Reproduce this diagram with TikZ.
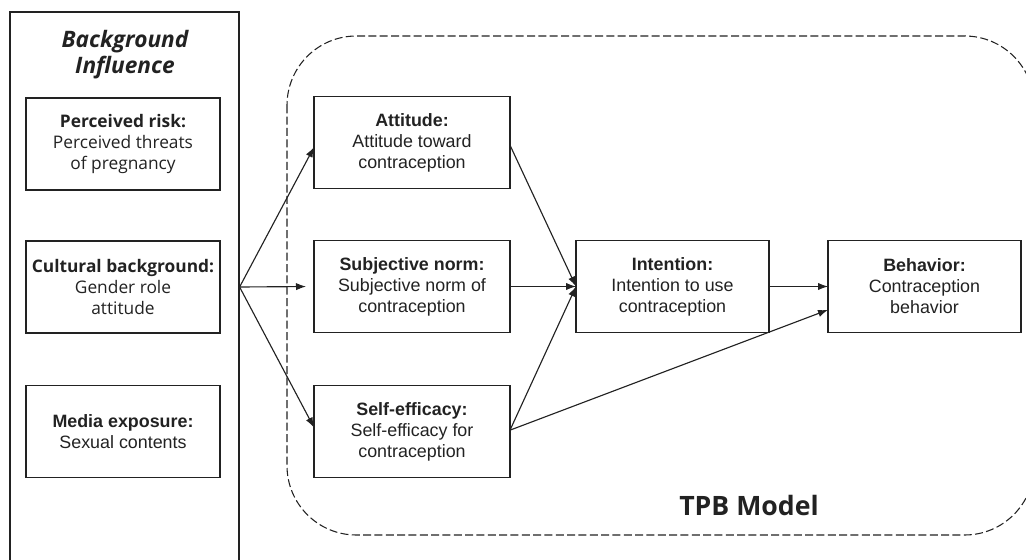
\documentclass[tikz,border=0pt]{standalone}
\usepackage{fontspec}
\setmainfont{Liberation Sans}
\newfontfamily\malg{Open Sans}
\usetikzlibrary{arrows.meta,calc}
\definecolor{ink}{HTML}{222222}
\tikzset{
  box/.style={draw=ink, line width=0.9pt, inner sep=0pt, outer sep=0pt,
    minimum width=147pt, minimum height=68.5pt, align=center, text=ink,
    font=\fontsize{13.4}{15.75}\selectfont},
  lbox/.style={box, minimum width=145.5pt, minimum height=69pt},
  lfont/.style={font=\malg\fontsize{13}{15.9}\selectfont},
  arr/.style={draw=ink, line width=0.85pt, -{Latex[length=7.5pt,width=5.5pt]}},
}
\begin{document}
\begin{tikzpicture}[x=0.75pt,y=-0.75pt]
\useasboundingbox (0,0) rectangle (1026,560);
% background panel
\node[draw=ink, line width=0.9pt, minimum width=171.75pt, minimum height=420pt, inner sep=0pt] (bg) at (124.5,292) {};
\node[text=ink, align=center, font=\malg\bfseries\itshape\fontsize{17}{19.5}\selectfont] (bgt) at (125,55) {Background\\Influence};
\node[lbox, lfont] (risk) at (123,144) {\textbf{Perceived risk:}\\Perceived threats\\of pregnancy};
\node[lbox, lfont] (cult) at (123,287) {\textbf{Cultural background:}\\Gender role\\attitude};
\node[lbox] (media) at (123,431.5) {\textbf{Media exposure:}\\Sexual contents};
% TPB region
\draw[ink, line width=0.8pt, dash pattern=on 6pt off 2.5pt, rounded corners=52pt] (287,36) rectangle (1034,535);
\node[text=ink, font=\malg\bfseries\fontsize{20}{22}\selectfont] (tpb) at (749,505) {TPB Model};
\node[box] (att) at (412,142.5) {\textbf{Attitude:}\\Attitude toward\\contraception};
\node[box] (subj) at (412,286.5) {\textbf{Subjective norm:}\\Subjective norm of\\contraception};
\node[box] (self) at (412,431.5) {\textbf{Self-efficacy:}\\Self-efficacy for\\contraception};
\node[box, minimum width=144.75pt] (int) at (672.5,286.5) {\textbf{Intention:}\\Intention to use\\contraception};
\node[box, minimum width=144.75pt] (beh) at (924.5,286.5) {\textbf{Behavior:}\\Contraception\\behavior};
% connectors
\coordinate (src) at (bg.east |- cult.east);
\draw[arr] (src) -- ([yshift=-3.5pt]att.west);
\draw[arr, shorten >=6pt] (src) -- (subj.west);
\draw[arr] (src) -- ([yshift=3pt]self.west);
\draw[arr] ([yshift=-2pt]att.east) -- (int.west);
\draw[arr] (subj.east) -- (int.west);
\draw[arr] ([yshift=1pt]self.east) -- (int.west);
\draw[arr] ([yshift=1pt]self.east) -- ([yshift=-17.5pt]beh.west);
\draw[arr] (int.east) -- (beh.west);
\end{tikzpicture}
\end{document}
